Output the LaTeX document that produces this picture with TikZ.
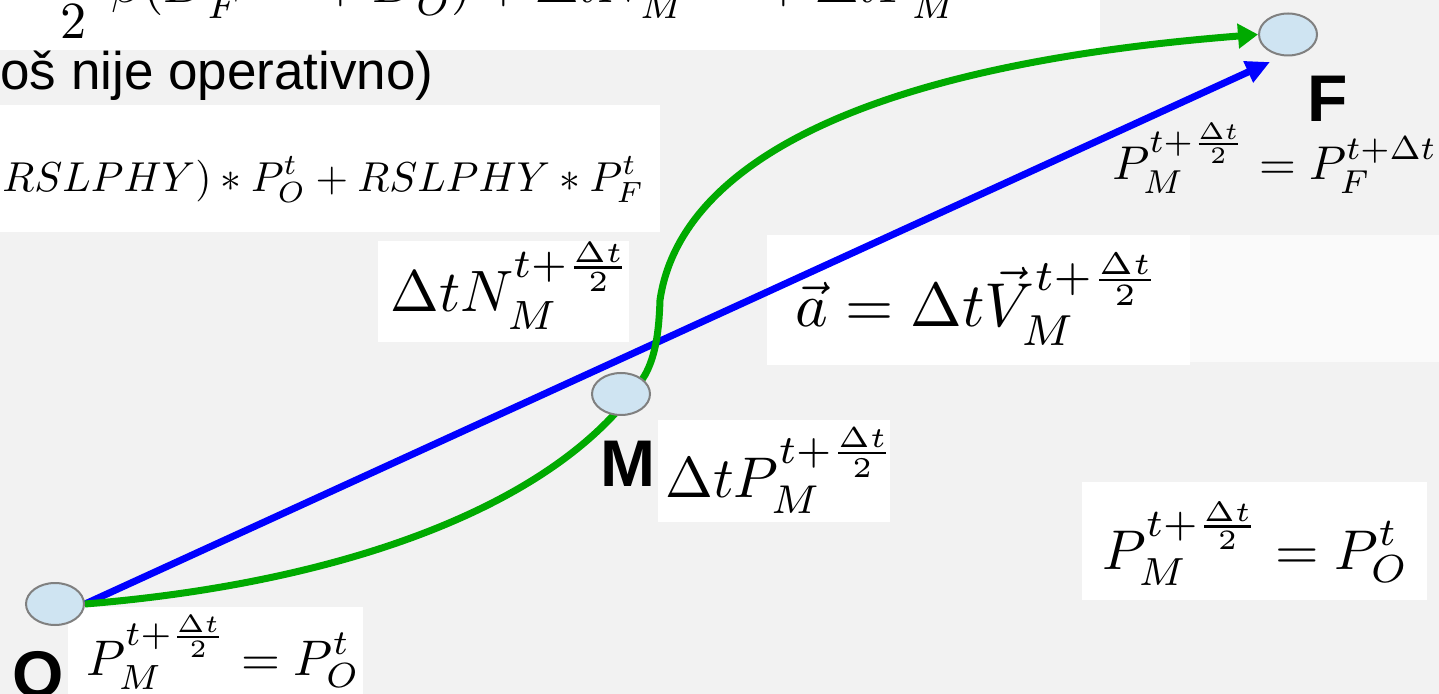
\documentclass[tikz,border=0pt]{standalone}
\usepackage{fontspec}
\usepackage{graphicx}
\usetikzlibrary{arrows.meta,shapes.geometric}
\newfontfamily\lsans{Liberation Sans}
\definecolor{bgc}{RGB}{242,242,242}
\definecolor{nodefill}{RGB}{207,228,242}
\definecolor{nodeline}{RGB}{128,128,128}
\definecolor{pathgreen}{RGB}{0,170,0}
\definecolor{pathblue}{RGB}{0,0,255}
\newcommand{\smath}[2]{\scalebox{#1}{$\displaystyle #2$}}
\pgfdeclarelayer{bg}
\pgfdeclarelayer{lines}
\pgfsetlayers{bg,lines,main}
\begin{document}
\begin{tikzpicture}[x=0.5pt,y=-0.5pt,
  pointnode/.style={ellipse,draw=nodeline,fill=nodefill,line width=1pt,
    minimum width=29pt,minimum height=21pt,inner sep=0pt},
  lbl/.style={anchor=base west,inner sep=0pt,
    font=\lsans\bfseries\fontsize{33}{36}\selectfont},
  fml/.style={anchor=base west,inner sep=0pt},
  whitebox/.style={fill=white},
  bluepath/.style={draw=pathblue,line width=3.5pt,-{Triangle[length=12pt,width=11pt]}},
  greenpath/.style={draw=pathgreen,line width=3.5pt,-{Triangle[length=10pt,width=12pt]}}]
\useasboundingbox (0,0) rectangle (1439,694);
\begin{pgfonlayer}{bg}
  \fill[bgc] (0,0) rectangle (1439,694);
  \fill[white] (0,0) rectangle (1100,50);
  \fill[whitebox] (0,105) rectangle (660,232);
  \fill[whitebox] (378,241) rectangle (629,342);
  \fill[white!60!bgc] (1190,235) rectangle (1439,362);
  \fill[whitebox] (767,235) rectangle (1190,365);
  \fill[whitebox] (658,420) rectangle (890,522);
  \fill[whitebox] (1082,482) rectangle (1427,600);
  \fill[whitebox] (68,607) rectangle (363,694);
\end{pgfonlayer}
\begin{scope}
\clip (0,0) rectangle (1439,694);
% points
\node[pointnode] (O) at (55,604) {};
\node[pointnode] (M) at (621,394) {};
\node[pointnode] (F) at (1288,34.5) {};
% labels
\node[lbl] (lO) at (12,697) {O};
\node[lbl] (lM) at (600,487) {M};
\node[lbl] (lF) at (1307,122) {F};
% text
\node[anchor=base west,inner sep=0pt,font=\lsans\fontsize{26.5}{30}\selectfont] (note) at (0,90) {oš nije operativno)};
% formulas
\node[fml] (ftop) at (36,3) {\smath{2.61}{\frac{\Delta t}{2}\beta(D_F^{t+\Delta t}+D_O^{t})+\Delta t N_M^{t+\frac{\Delta t}{2}}+\Delta t P_M^{t+\frac{\Delta t}{2}}}};
\node[fml] (f1) at (2,192) {\smath{2.09}{RSLPHY)*P_O^t+RSLPHY*P_F^t}};
\node[fml] (f2) at (390,312) {\smath{2.92}{\Delta t N_M^{t+\frac{\Delta t}{2}}}};
\node[fml] (f3) at (795,327) {\smath{3.1}{\vec{a}=\Delta t\vec{V}_M^{t+\frac{\Delta t}{2}}}};
\node[fml] (f4) at (665,497) {\smath{2.87}{\Delta t P_M^{t+\frac{\Delta t}{2}}}};
\node[fml] (f5) at (1102,569) {\smath{2.8}{P_M^{t+\frac{\Delta t}{2}}=P_O^t}};
\node[fml] (f6) at (86,675) {\smath{2.5}{P_M^{t+\frac{\Delta t}{2}}=P_O^t}};
\node[fml] (f7) at (1112,180) {\smath{2.37}{P_M^{t+\frac{\Delta t}{2}}=P_F^{t+\Delta t}}};
\end{scope}
\coordinate (bluetip) at (1270,62);
\coordinate (g1) at (645,375);
\coordinate (g2) at (660,300);
\begin{pgfonlayer}{lines}
  \draw[bluepath] (O.east) -- (bluetip);
  \draw[greenpath] (O.east) .. controls (334,584) and (559,509) .. (g1)
     .. controls (656,355) and (659,330) .. (g2)
     .. controls (676,190) and (807,70) .. (F.west);
\end{pgfonlayer}
\end{tikzpicture}
\end{document}
